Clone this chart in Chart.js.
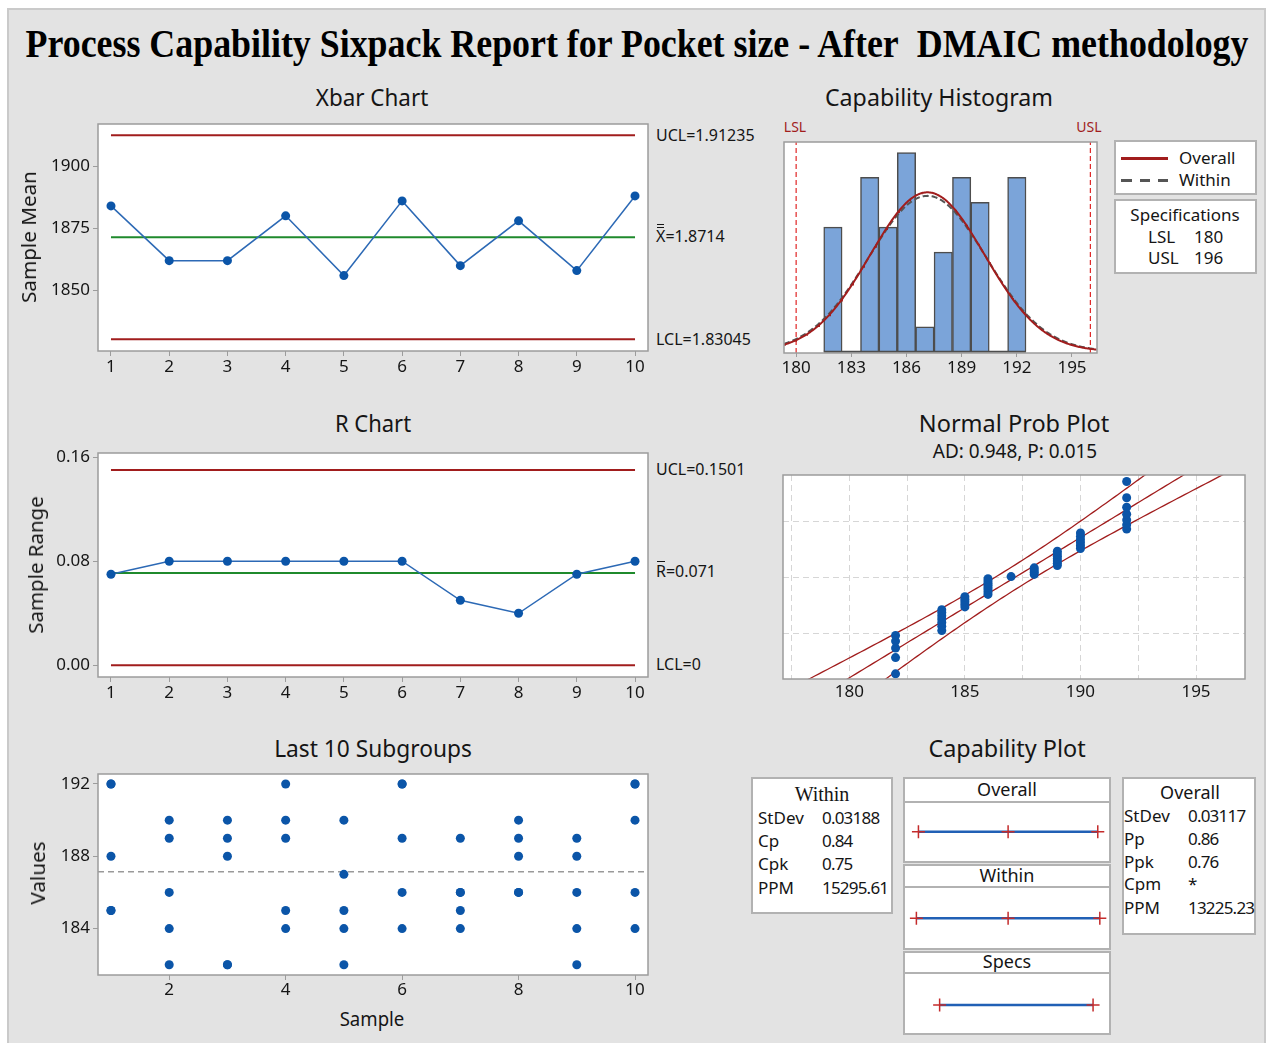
<!DOCTYPE html>
<html>
<head>
<meta charset="utf-8">
<title>Process Capability Sixpack Report</title>
<script src="https://cdn.jsdelivr.net/npm/chart.js@4.4.1/dist/chart.umd.min.js"></script>
<style>
  html, body { margin: 0; padding: 0; background: #fff; }
  body { width: 1266px; height: 1043px; position: relative; overflow: hidden; font-family: "Noto Sans", "Open Sans", sans-serif; }
  #sheet { position: absolute; left: 7px; top: 8px; width: 1255px; height: 1040px; background: #e3e3e3;
           border-left: 2px solid #cacaca; border-top: 2px solid #cacaca; border-right: 2px solid #cacaca; }
  canvas { position: absolute; }
  .txt { position: absolute; white-space: nowrap; line-height: 1; color: #151515; }
  .box { position: absolute; background: #fff; border: 2px solid #b2b2b2; box-sizing: border-box; }
  .ob, .obb { position: relative; display: inline-block; }
  .ob::before { content: ""; position: absolute; left: 12%; right: 12%; top: -2px; border-top: 1px solid currentColor; }
  .obb::before { content: ""; position: absolute; left: 12%; right: 12%; top: -4px; height: 4px; box-sizing: border-box;
                 border-top: 1px solid currentColor; border-bottom: 1px solid currentColor; }
</style>
</head>
<body>
<div id="sheet"></div>
<script>
// ---------------- data ----------------
const sampleNo      = [1, 2, 3, 4, 5, 6, 7, 8, 9, 10];
const sampleMeans   = [1.884, 1.862, 1.862, 1.880, 1.856, 1.886, 1.860, 1.878, 1.858, 1.888];
const sampleRanges  = [0.07, 0.08, 0.08, 0.08, 0.08, 0.08, 0.05, 0.04, 0.07, 0.08];

const xbarUCL = 1.91235, xbarCenter = 1.8714, xbarLCL = 1.83045;
const rUCL = 0.1501, rCenter = 0.071, rLCL = 0;

const xbarTicks      = [1.850, 1.875, 1.900];
const xbarTickLabels = ['1850', '1875', '1900'];
const rTicks         = [0.00, 0.08, 0.16];
const rTickLabels    = ['0.00', '0.08', '0.16'];
const sampleTickLabels = ['1', '2', '3', '4', '5', '6', '7', '8', '9', '10'];

// individual observations of each subgroup (five per subgroup)
const subgroup1  = [192, 192, 188, 185, 185];
const subgroup2  = [190, 189, 186, 184, 182];
const subgroup3  = [190, 189, 188, 182, 182];
const subgroup4  = [192, 190, 189, 185, 184];
const subgroup5  = [190, 187, 185, 184, 182];
const subgroup6  = [192, 192, 189, 186, 184];
const subgroup7  = [189, 186, 186, 185, 184];
const subgroup8  = [190, 189, 188, 186, 186];
const subgroup9  = [189, 188, 186, 184, 182];
const subgroup10 = [192, 192, 190, 186, 184];
const subgroups = [subgroup1, subgroup2, subgroup3, subgroup4, subgroup5,
                   subgroup6, subgroup7, subgroup8, subgroup9, subgroup10];
const valueTicks = [184, 188, 192];
const lastSampleTicks = [2, 4, 6, 8, 10];

// capability histogram
const binCenters = [182, 183, 184, 185, 186, 187, 188, 189, 190, 191, 192];
const binCounts  = [5, 0, 7, 5, 8, 1, 4, 7, 6, 0, 7];
const histTicks  = [180, 183, 186, 189, 192, 195];

// normal probability plot
const probGrid   = [177.5, 180, 182.5, 185, 187.5, 190, 192.5, 195];
const probLabels = ['', '180', '', '185', '', '190', '', '195'];
const probZGrid  = [-1.2816, 0, 1.2816];
const adStat = '0.948', pValue = '0.015';

// specifications and statistics
const LSL = 180, USL = 196;
const withinStDev = 0.03188, overallStDev = 0.03117;
const labelToData = 100;  // statistics are reported in units 1/100 of the observations
const withinLabels  = ['StDev', 'Cp', 'Cpk', 'PPM'];
const withinValues  = ['0.03188', '0.84', '0.75', '15295.61'];
const overallLabels = ['StDev', 'Pp', 'Ppk', 'Cpm', 'PPM'];
const overallValues = ['0.03117', '0.86', '0.76', '*', '13225.23'];

// ---------------- styling ----------------
const FONT = '"Noto Sans", "Open Sans", sans-serif';
const RED = '#a11d1d', GREEN = '#1f8a2c', DOT = '#0b55a8', LINE = '#2c69b5', FRAME = '#9c9c9c';

// ---------------- helpers ----------------
function txt(html, x, y, o = {}) {
  const d = document.createElement('div');
  d.className = 'txt';
  d.innerHTML = html;
  d.style.left = x + 'px';
  d.style.top = y + 'px';
  d.style.fontSize = (o.size || 17) + 'px';
  if (o.family) d.style.fontFamily = o.family;
  if (o.weight) d.style.fontWeight = o.weight;
  if (o.color) d.style.color = o.color;
  if (o.ls) d.style.letterSpacing = o.ls + 'px';
  document.body.appendChild(d);
  const sx = o.fit ? o.fit / d.offsetWidth : 1;
  let t;
  if (o.align === 'left') { d.style.transformOrigin = '0 50%'; t = 'translate(0,-50%)'; }
  else t = 'translate(-50%,-50%)';
  if (o.rotate) t += ' rotate(-90deg)';
  if (sx !== 1) t += ' scaleX(' + sx.toFixed(4) + ')';
  d.style.transform = t;
  return d;
}
function box(x, y, w, h, extra) {
  const d = document.createElement('div');
  d.className = 'box';
  Object.assign(d.style, { left: x + 'px', top: y + 'px', width: w + 'px', height: h + 'px' }, extra || {});
  document.body.appendChild(d);
  return d;
}
function rule(x, y, w, h, bg) {
  const d = document.createElement('div');
  Object.assign(d.style, { position: 'absolute', left: x + 'px', top: y + 'px', width: w + 'px', height: h + 'px', background: bg });
  document.body.appendChild(d);
}

// white plot area and grey frame
Chart.register({
  id: 'plotFrame',
  beforeDraw(chart, args, opts) {
    if (!opts.on) return;
    const a = chart.chartArea, ctx = chart.ctx;
    ctx.save();
    ctx.fillStyle = '#fff';
    ctx.fillRect(a.left, a.top, a.right - a.left, a.bottom - a.top);
    ctx.restore();
  },
  afterDraw(chart, args, opts) {
    if (!opts.on) return;
    const a = chart.chartArea, ctx = chart.ctx;
    ctx.save();
    ctx.strokeStyle = FRAME;
    ctx.lineWidth = 1.5;
    ctx.strokeRect(a.left, a.top, a.right - a.left, a.bottom - a.top);
    ctx.restore();
  }
});

function axis(min, max, o = {}) {
  const ticks = o.ticks || [];
  return {
    type: 'linear', min, max, display: true, offset: false,
    afterBuildTicks: s => { s.ticks = ticks.map(v => ({ value: v })); },
    ticks: {
      display: !!o.labels, autoSkip: false, maxRotation: 0, minRotation: 0,
      padding: o.pad === undefined ? 2 : o.pad, color: '#151515',
      font: { family: FONT, size: o.size || 17 },
      callback: (v, i) => (o.labels ? o.labels[i] : '')
    },
    grid: {
      display: true, offset: false, drawOnChartArea: !!o.gridOn, drawTicks: !!o.tickLen,
      tickLength: o.tickLen || 0, color: o.gridColor || FRAME, tickColor: FRAME, lineWidth: 1
    },
    border: { display: false, dash: o.dash || [] }
  };
}

// plot box = exact chart area in page pixels; m = room around it for tick labels
function plot(b, m, xs, ys, datasets, framed) {
  const cv = document.createElement('canvas');
  const w = b.x1 - b.x0 + m.l + m.r, h = b.y1 - b.y0 + m.t + m.b;
  cv.width = w; cv.height = h;
  cv.style.left = (b.x0 - m.l) + 'px';
  cv.style.top = (b.y0 - m.t) + 'px';
  cv.style.width = w + 'px';
  cv.style.height = h + 'px';
  document.body.appendChild(cv);
  xs.position = 'bottom';
  ys.position = 'left';
  xs.afterFit = s => { s.height = m.b; s.paddingLeft = 0; s.paddingRight = 0; };
  ys.afterFit = s => { s.width = m.l; s.paddingTop = 0; s.paddingBottom = 0; };
  return new Chart(cv, {
    type: 'scatter',
    data: { datasets },
    options: {
      responsive: false, animation: false, devicePixelRatio: 1, events: [],
      layout: { autoPadding: false, padding: { top: m.t, right: m.r, left: 0, bottom: 0 } },
      plugins: { legend: { display: false }, tooltip: { enabled: false }, plotFrame: { on: framed } },
      scales: { x: xs, y: ys }
    }
  });
}
const hline = (x0, x1, y, color, width, dash) => ({
  data: [{ x: x0, y }, { x: x1, y }], showLine: true, borderColor: color, borderWidth: width,
  borderDash: dash || [], pointRadius: 0, order: 5
});
const vline = (x, y0, y1, color, width, dash) => ({
  data: [{ x, y: y0 }, { x, y: y1 }], showLine: true, borderColor: color, borderWidth: width,
  borderDash: dash || [], pointRadius: 0, order: 5
});
const series = (pts, line) => ({
  data: pts, showLine: !!line, borderColor: LINE, borderWidth: 1.5,
  pointRadius: 4.5, pointBackgroundColor: DOT, pointBorderColor: DOT, pointBorderWidth: 0, order: 1
});

// inverse standard normal CDF (Acklam)
function invNorm(p) {
  const a = [-3.969683028665376e+01, 2.209460984245205e+02, -2.759285104469687e+02, 1.383577518672690e+02, -3.066479806614716e+01, 2.506628277459239e+00];
  const b = [-5.447609879822406e+01, 1.615858368580409e+02, -1.556989798598866e+02, 6.680131188771972e+01, -1.328068155288572e+01];
  const c = [-7.784894002430293e-03, -3.223964580411365e-01, -2.400758277161838e+00, -2.549732539343734e+00, 4.374664141464968e+00, 2.938163982698783e+00];
  const d = [7.784695709041462e-03, 3.224671290700398e-01, 2.445134137142996e+00, 3.754408661907416e+00];
  const pl = 0.02425;
  let q, r;
  if (p < pl) { q = Math.sqrt(-2 * Math.log(p)); return (((((c[0]*q+c[1])*q+c[2])*q+c[3])*q+c[4])*q+c[5]) / ((((d[0]*q+d[1])*q+d[2])*q+d[3])*q+1); }
  if (p <= 1 - pl) { q = p - 0.5; r = q*q; return (((((a[0]*r+a[1])*r+a[2])*r+a[3])*r+a[4])*r+a[5])*q / (((((b[0]*r+b[1])*r+b[2])*r+b[3])*r+b[4])*r+1); }
  q = Math.sqrt(-2 * Math.log(1 - p)); return -(((((c[0]*q+c[1])*q+c[2])*q+c[3])*q+c[4])*q+c[5]) / ((((d[0]*q+d[1])*q+d[2])*q+d[3])*q+1);
}
const pdf = (x, mu, sd) => Math.exp(-0.5 * ((x - mu) / sd) ** 2) / (sd * Math.sqrt(2 * Math.PI));

// ---------------- derived quantities ----------------
const allValues = subgroups.flat();
const n = allValues.length;
const mu = xbarCenter * labelToData;
const sdOverall = overallStDev * labelToData;
const sdWithin = withinStDev * labelToData;
const binWidth = binCenters[1] - binCenters[0];

// ---------------- titles ----------------
txt('Process Capability Sixpack Report for Pocket size - After&nbsp; DMAIC methodology', 636.5, 43,
    { size: 41, family: '"Liberation Serif", "Times New Roman", serif', weight: 'bold', fit: 1223, color: '#000' });
txt('Xbar Chart', 372, 97, { size: 24, fit: 112 });
txt('Capability Histogram', 939, 97, { size: 24, fit: 228 });
txt('R Chart', 373, 423, { size: 24, fit: 76 });
txt('Normal Prob Plot', 1014, 423, { size: 24, fit: 190 });
txt('AD: ' + adStat + ', P: ' + pValue, 1015, 451, { size: 20, fit: 164 });
txt('Last 10 Subgroups', 373, 748, { size: 24, fit: 198 });
txt('Capability Plot', 1007, 748, { size: 24, fit: 157 });

// ---------------- Xbar chart ----------------
const sx0 = 0.777, sx1 = 10.223;
plot({ x0: 98, x1: 648, y0: 124, y1: 351 }, { l: 60, r: 4, t: 10, b: 30 },
  axis(sx0, sx1, { ticks: sampleNo, labels: sampleTickLabels, tickLen: 5, pad: 1 }),
  axis(1.8257, 1.9169, { ticks: xbarTicks, labels: xbarTickLabels, tickLen: 5, pad: 3 }),
  [
    series(sampleNo.map((s, i) => ({ x: s, y: sampleMeans[i] })), true),
    hline(sampleNo[0], sampleNo[sampleNo.length - 1], xbarUCL, RED, 2),
    hline(sampleNo[0], sampleNo[sampleNo.length - 1], xbarLCL, RED, 2),
    hline(sampleNo[0], sampleNo[sampleNo.length - 1], xbarCenter, GREEN, 2)
  ], true);
txt('Sample Mean', 29, 237, { size: 20, rotate: true, fit: 132 });
txt('UCL=' + xbarUCL, 656, 135, { size: 16, align: 'left' });
txt('<span class="obb">X</span>=' + xbarCenter, 656, 236, { size: 16, align: 'left' });
txt('LCL=' + xbarLCL, 656, 339, { size: 16, align: 'left' });

// ---------------- R chart ----------------
plot({ x0: 98, x1: 648, y0: 453, y1: 677 }, { l: 60, r: 4, t: 10, b: 30 },
  axis(sx0, sx1, { ticks: sampleNo, labels: sampleTickLabels, tickLen: 5, pad: 1 }),
  axis(-0.0090, 0.1632, { ticks: rTicks, labels: rTickLabels, tickLen: 5, pad: 3 }),
  [
    series(sampleNo.map((s, i) => ({ x: s, y: sampleRanges[i] })), true),
    hline(sampleNo[0], sampleNo[sampleNo.length - 1], rUCL, RED, 2),
    hline(sampleNo[0], sampleNo[sampleNo.length - 1], rLCL, RED, 2),
    hline(sampleNo[0], sampleNo[sampleNo.length - 1], rCenter, GREEN, 2)
  ], true);
txt('Sample Range', 36, 565, { size: 20, rotate: true, fit: 137 });
txt('UCL=' + rUCL, 656, 469, { size: 16, align: 'left' });
txt('<span class="ob">R</span>=' + rCenter, 656, 571, { size: 16, align: 'left' });
txt('LCL=' + rLCL, 656, 664, { size: 16, align: 'left' });

// ---------------- Last 10 subgroups ----------------
const subgroupPoints = [];
subgroups.forEach((g, i) => g.forEach(v => subgroupPoints.push({ x: sampleNo[i], y: v })));
plot({ x0: 98, x1: 648, y0: 774, y1: 975 }, { l: 60, r: 4, t: 10, b: 30 },
  axis(sx0, sx1, { ticks: lastSampleTicks, labels: lastSampleTicks.map(String), tickLen: 5, pad: 0 }),
  axis(181.43, 192.553, { ticks: valueTicks, labels: valueTicks.map(String), tickLen: 5, pad: 3 }),
  [
    series(subgroupPoints, false),
    hline(sx0, sx1, mu, '#9a9a9a', 1.5, [6, 4])
  ], true);
txt('Values', 38, 873, { size: 20, rotate: true, fit: 63 });
txt('Sample', 372, 1019, { size: 20, fit: 65 });

// ---------------- Capability histogram ----------------
const hx0 = 179.34, hx1 = 196.36, hy0 = -0.052, hy1 = 8.42;
const curveX = [];
for (let x = hx0; x <= hx1 + 1e-9; x += 0.05) curveX.push(x);
plot({ x0: 784, x1: 1097, y0: 142, y1: 353 }, { l: 2, r: 4, t: 4, b: 30 },
  axis(hx0, hx1, { ticks: histTicks, labels: histTicks.map(String), tickLen: 4, pad: 1 }),
  axis(hy0, hy1, {}),
  [
    { type: 'bar', data: binCenters.map((c, i) => ({ x: c, y: binCounts[i] })),
      backgroundColor: '#7ba4d9', borderColor: '#4d4d4d', borderWidth: 1.5,
      barPercentage: 1, categoryPercentage: 1, order: 6 },
    hline(binCenters[0] - binWidth / 2, binCenters[binCenters.length - 1] + binWidth / 2, 0, '#4d4d4d', 2),
    { data: curveX.map(x => ({ x, y: n * binWidth * pdf(x, mu, sdWithin) })), showLine: true,
      borderColor: '#555', borderWidth: 2, borderDash: [6, 3], pointRadius: 0, order: 3 },
    { data: curveX.map(x => ({ x, y: n * binWidth * pdf(x, mu, sdOverall) })), showLine: true,
      borderColor: RED, borderWidth: 2, pointRadius: 0, order: 2 },
    vline(LSL, hy0, hy1, '#e02525', 1.2, [5, 3]),
    vline(USL, hy0, hy1, '#e02525', 1.2, [5, 3])
  ], true);
txt('LSL', 795, 127, { size: 14, color: RED });
txt('USL', 1089, 127, { size: 14, color: RED });

// legend and specification boxes
box(1114, 140, 143, 55);
rule(1121, 157, 47, 2.5, RED);
rule(1121, 179, 48, 2.5, 'repeating-linear-gradient(90deg, #555 0 10.5px, transparent 10.5px 18.5px)');
txt('Overall', 1179, 157, { size: 17, align: 'left' });
txt('Within', 1179, 179, { size: 17, align: 'left' });
box(1114, 199, 143, 75);
txt('Specifications', 1185, 214, { size: 17 });
txt('LSL', 1148, 236, { size: 17, align: 'left' });
txt(String(LSL), 1194, 236, { size: 17, align: 'left' });
txt('USL', 1148, 257, { size: 17, align: 'left' });
txt(String(USL), 1194, 257, { size: 17, align: 'left' });

// ---------------- Normal probability plot ----------------
const sorted = allValues.slice().sort((a, b) => a - b);
const probPoints = sorted.map((v, i) => ({ x: v, y: invNorm((i + 1 - 0.3) / (n + 0.4)) }));
const zs = [];
for (let z = -2.8; z <= 2.8001; z += 0.05) zs.push(z);
const band = s => zs.map(z => ({ x: mu + z * sdOverall + s * 1.96 * sdOverall * Math.sqrt((1 + z * z / 2) / n), y: z }));
const redLine = pts => ({ data: pts, showLine: true, borderColor: RED, borderWidth: 1.3, pointRadius: 0, order: 4 });
plot({ x0: 783, x1: 1245, y0: 475, y1: 679 }, { l: 2, r: 4, t: 4, b: 28 },
  axis(177.13, 197.12, { ticks: probGrid, labels: probLabels, gridOn: true, gridColor: '#d6d6d6', dash: [6, 4], pad: 3 }),
  axis(-2.318, 2.35, { ticks: probZGrid, gridOn: true, gridColor: '#d6d6d6', dash: [6, 4] }),
  [
    series(probPoints, false),
    redLine(band(0)), redLine(band(-1)), redLine(band(1))
  ], true);

// ---------------- Capability plot ----------------
box(751, 777, 142, 137);
txt('Within', 822, 794, { size: 20, family: '"Liberation Serif", serif' });
withinLabels.forEach((l, i) => {
  const y = [817, 840, 863, 887][i];
  txt(l, 758, y, { size: 17, align: 'left' });
  txt(withinValues[i], 822, y, { size: 17, align: 'left', ls: -0.8 });
});
box(1122, 777, 134, 158);
txt('Overall', 1190, 792, { size: 18 });
overallLabels.forEach((l, i) => {
  const y = [815, 838, 861, 883, 907][i];
  txt(l, 1124, y, { size: 17, align: 'left' });
  txt(overallValues[i], 1188, y, { size: 17, align: 'left', ls: -0.8 });
});

box(903, 777, 208, 86);  rule(903, 801, 208, 2, '#b2b2b2');
box(903, 864, 208, 86);  rule(903, 886, 208, 2, '#b2b2b2');
box(903, 951, 208, 84);  rule(903, 972, 208, 2, '#b2b2b2');
txt('Overall', 1007, 789, { size: 18 });
txt('Within', 1007, 875, { size: 18 });
txt('Specs', 1007, 961, { size: 18 });

const intervalSet = (xs, y) => ({
  data: xs.map(x => ({ x, y })), showLine: true, borderColor: '#2160b5', borderWidth: 2.5,
  pointStyle: 'cross', pointRadius: 6.5, pointBorderColor: '#c42b2b', pointBorderWidth: 1.5,
  pointBackgroundColor: 'rgba(0,0,0,0)'
});
plot({ x0: 903, x1: 1111, y0: 777, y1: 1035 }, { l: 0, r: 0, t: 0, b: 0 },
  axis(176.18, 197.87, {}),
  axis(0.654, 3.631, {}),
  [
    intervalSet([mu - 3 * sdOverall, mu, mu + 3 * sdOverall], 3),
    intervalSet([mu - 3 * sdWithin, mu, mu + 3 * sdWithin], 2),
    intervalSet([LSL, USL], 1)
  ], false);
</script>
</body>
</html>
